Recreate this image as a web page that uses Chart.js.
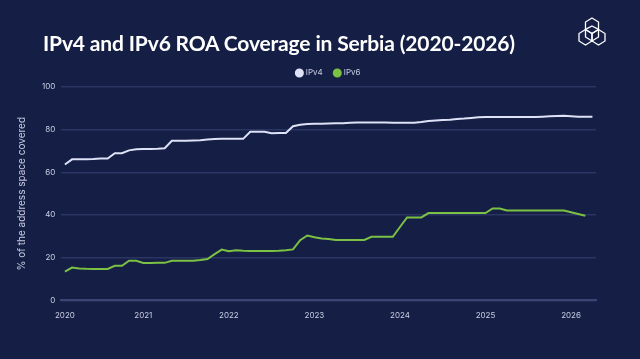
<!DOCTYPE html>
<html>
<head>
<meta charset="utf-8">
<script src="https://cdn.jsdelivr.net/npm/chart.js@4.4.1/dist/chart.umd.min.js"></script>
<style>
  html, body { margin: 0; padding: 0; background: #151e45; }
  #wrap { position: relative; width: 640px; height: 359px; overflow: hidden; }
  h1 {
    position: absolute; left: 43px; top: 30px; margin: 0;
    font-family: Lato, Inter, sans-serif; font-weight: 700; font-size: 21px;
    letter-spacing: -0.15px; color: #ffffff; white-space: nowrap;
  }
  #logo { position: absolute; left: 574px; top: 16px; }
  canvas { position: absolute; left: 0; top: 0; }
</style>
</head>
<body>
<div id="wrap">
  <canvas id="chartRoa" width="640" height="359"></canvas>
  <h1>IPv4 and IPv6 ROA Coverage in Serbia (2020-2026)</h1>
  <svg id="logo" width="36" height="38" viewBox="0 0 36 38" fill="none" stroke="#ffffff" stroke-width="1.3">
    <polygon points="18,2 24.5,6 24.5,13.5 18,17.5 11.5,13.5 11.5,6"/>
    <polygon points="11.5,13.5 18,17.5 18,25 11.5,29 5,25 5,17.5"/>
    <polygon points="24.5,13.5 31,17.5 31,25 24.5,29 18,25 18,17.5"/>
    <polygon points="18,10 24.5,13.5 24.5,21 18,25 11.5,21 11.5,13.5"/>
  </svg>
</div>
<script>
// monthly points, Feb 2020 .. Apr 2026
const months = [];
for (let y = 2020; y <= 2026; y++) {
  for (let m = 1; m <= 12; m++) {
    if (y === 2020 && m < 2) continue;
    if (y === 2026 && m > 4) continue;
    months.push(y + '-' + String(m).padStart(2, '0'));
  }
}

const ipv4 = [63.7, 66.1, 66.2, 66.2, 66.3, 66.5, 66.5, 69.0, 69.0, 70.3, 70.8,
  71.0, 71.0, 71.1, 71.3, 74.8, 74.8, 74.8, 74.9, 75.0, 75.4, 75.6, 75.8,
  75.8, 75.7, 75.7, 79.0, 79.0, 79.0, 78.3, 78.4, 78.4, 81.6, 82.3, 82.7,
  82.8, 82.8, 82.9, 83.0, 83.0, 83.2, 83.4, 83.4, 83.4, 83.4, 83.4, 83.3,
  83.2, 83.3, 83.3, 83.6, 84.1, 84.3, 84.5, 84.7, 85.0, 85.2, 85.5, 85.8,
  85.9, 85.9, 85.9, 85.9, 85.9, 85.9, 85.9, 85.9, 86.1, 86.3, 86.4, 86.5,
  86.3, 86.1, 86.1, 86.1];

const ipv6 = [13.5, 15.4, 15.0, 14.8, 14.7, 14.7, 14.7, 16.2, 16.2, 18.6, 18.6,
  17.5, 17.5, 17.6, 17.6, 18.6, 18.6, 18.6, 18.6, 18.9, 19.4, 21.7, 23.8,
  23.0, 23.5, 23.3, 23.2, 23.2, 23.2, 23.2, 23.3, 23.5, 23.9, 28.2, 30.4,
  29.6, 29.0, 28.8, 28.3, 28.3, 28.3, 28.3, 28.3, 29.8, 29.8, 29.8, 29.8,
  34.4, 38.9, 38.9, 38.9, 40.9, 40.9, 40.9, 40.9, 40.9, 40.9, 40.9, 40.9,
  40.9, 43.1, 43.1, 42.1, 42.1, 42.1, 42.1, 42.1, 42.1, 42.1, 42.1, 42.1,
  41.3, 40.5, 39.7, null];

const textColor = '#c9cee3';
const gridColor = '#2b3562';

// centre the legend over the plot area rather than the whole canvas
const legendShift = {
  id: 'legendShift',
  afterLayout(chart) {
    const lg = chart.legend;
    if (!lg) return;
    const dx = (chart.chartArea.left + chart.chartArea.right) / 2 - (lg.left + lg.right) / 2;
    lg.left += dx;
    lg.right += dx;
  }
};

const ctx = document.getElementById('chartRoa');

new Chart(ctx, {
  type: 'line',
  data: {
    labels: months,
    datasets: [{
      label: 'IPv4',
      data: ipv4,
      borderColor: '#dde2f6',
      backgroundColor: '#dde2f6',
      borderWidth: 2,
      pointRadius: 0,
      tension: 0
    }, {
      label: 'IPv6',
      data: ipv6,
      borderColor: '#7bc143',
      backgroundColor: '#7bc143',
      borderWidth: 2,
      pointRadius: 0,
      tension: 0
    }]
  },
  options: {
    responsive: false,
    animation: false,
    layout: { padding: { top: 57, left: 16, right: 44, bottom: 37 } },
    plugins: {
      legend: {
        position: 'top',
        labels: {
          color: textColor,
          usePointStyle: true,
          pointStyle: 'circle',
          boxWidth: 5,
          boxHeight: 5,
          padding: 12,
          font: { family: 'Inter', size: 8 }
        }
      },
      tooltip: { enabled: false }
    },
    scales: {
      x: {
        offset: true,
        grid: { display: false },
        border: { display: true, color: '#3a4573', width: 2 },
        ticks: {
          color: textColor,
          autoSkip: false,
          maxRotation: 0,
          padding: 2,
          font: { family: 'Inter', size: 8 },
          callback: function (val, i) {
            const lab = months[i];
            if (i === 0 || lab.endsWith('-01')) return lab.slice(0, 4);
            return null;
          }
        }
      },
      y: {
        min: 0,
        max: 100,
        border: { display: false },
        grid: { color: gridColor, lineWidth: 1.5, drawTicks: false },
        ticks: {
          stepSize: 20,
          color: textColor,
          padding: 6,
          font: { family: 'Inter', size: 8 }
        },
        title: {
          display: true,
          text: '% of the address space covered',
          color: textColor,
          padding: { top: 0, bottom: 8 },
          font: { family: 'Inter', size: 10 }
        }
      }
    }
  },
  plugins: [legendShift]
});
</script>
</body>
</html>
